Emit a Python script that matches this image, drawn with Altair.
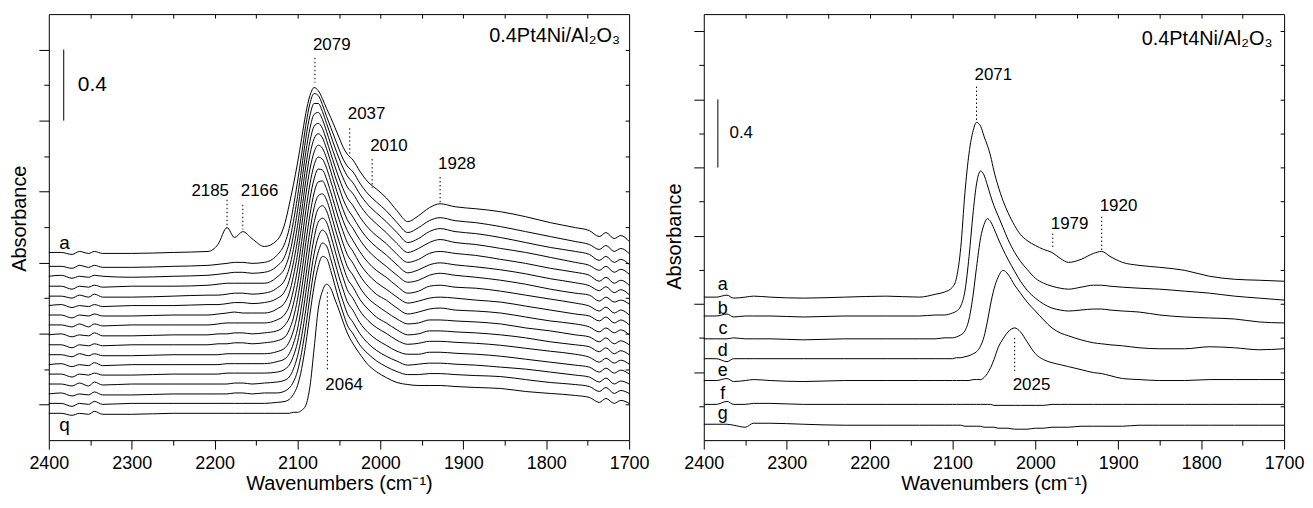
import altair as alt
import pandas as pd

FONT = "Liberation Sans"
INK = "#000000"

# ---------------- LEFT PANEL (17 spectra, a..q) ----------------
# readings are heights in scale divisions (0.4 absorbance bar = 71.5 div)
LEFT_UNIT = 2.4 / 429.0
LEFT_WN = [2400, 2385, 2372, 2363, 2352, 2345, 2335, 2300, 2250, 2208, 2196, 2185, 2176, 2166, 2155, 2140, 2125,
           2115, 2110, 2105, 2100, 2095, 2090, 2085, 2080, 2075, 2070, 2065, 2060, 2055, 2050, 2045, 2040,
           2033, 2025, 2015, 2005, 1993, 1980, 1967, 1954, 1941, 1928, 1910, 1885, 1855, 1825, 1795, 1765,
           1748, 1736, 1728, 1718, 1710, 1700]
LEFT_NAMES = list("abcdefghijklmnopq")
LEFT_BASE = [189, 175, 165, 155, 145, 135.5, 126, 116, 106, 96, 86, 76, 66.5, 56.5, 46.5, 37, 27]

L_a = [0, 0, -2, 1, -1, 1, -1, -1, 0, 1, 8, 25, 15, 21, 14, 6, 12,
       30, 48, 68, 90, 115, 140, 158, 166, 163, 155, 145, 136, 126, 116, 106, 99,
       93, 82, 71, 64, 55, 42, 31, 37, 45, 49, 46, 44, 41, 36, 30, 25, 22, 16, 20, 14, 17, 11]
L_b = [0, 0, -2, 1, -1, 1, -1, -1, 0, 1, 2, 3, 4, 4, 3, 4, 11,
       24, 38, 60, 85, 113, 142, 164, 174, 172, 163, 151, 140, 129, 118, 108, 101,
       95, 84, 73, 65, 56, 44, 34, 39, 46, 49, 46, 44, 40, 35, 30, 25, 22, 17, 21, 15, 18, 13]
L_c = [0, 1, -2, 0, -1, 1, 0, -1, 0, 1, 2, 3, 4, 4, 3, 4, 10,
       21, 34, 55, 80, 109, 139, 162, 174, 174, 166, 154, 142, 130, 119, 109, 101,
       94, 83, 72, 64, 55, 44, 34, 38, 45, 48, 45, 43, 39, 34, 29, 25, 22, 16, 20, 14, 17, 12]
L_d = [0, 0, -3, 0, -1, 1, -1, 0, 0, 1, 2, 3, 3, 3, 3, 3, 9,
       19, 31, 51, 76, 105, 135, 159, 173, 175, 168, 156, 143, 131, 119, 109, 100,
       93, 82, 71, 63, 54, 43, 34, 38, 44, 47, 44, 42, 38, 34, 29, 24, 21, 16, 20, 14, 17, 12]
L_e = [0, 0, -2, 1, -1, 2, -1, -1, 0, 1, 1, 2, 3, 3, 2, 3, 8,
       17, 28, 47, 71, 100, 131, 156, 171, 174, 169, 157, 144, 131, 119, 108, 99,
       91, 80, 69, 61, 53, 42, 34, 37, 43, 45, 43, 41, 37, 33, 28, 24, 21, 15, 19, 13, 16, 11]
L_f = [0, 1, -2, 0, -1, 1, -1, 0, 0, 1, 1, 2, 3, 3, 2, 3, 7,
       15, 25, 43, 66, 95, 126, 152, 168, 173, 169, 158, 145, 131, 119, 107, 98,
       89, 78, 67, 59, 51, 41, 33, 36, 41, 43, 41, 39, 36, 32, 27, 23, 20, 15, 19, 13, 16, 11]
L_g = [0, 0, -3, 0, -1, 1, -1, -1, 0, 0, 1, 2, 3, 2, 2, 2, 6,
       13, 22, 39, 61, 90, 121, 147, 164, 171, 168, 158, 145, 131, 118, 106, 96,
       87, 76, 65, 57, 49, 40, 33, 35, 40, 42, 40, 38, 35, 31, 26, 22, 20, 14, 18, 13, 15, 11]
L_h = [0, 0, -2, 1, -2, 1, -1, 0, 0, 0, 1, 2, 2, 2, 2, 2, 5,
       11, 19, 35, 56, 84, 115, 142, 161, 169, 167, 158, 145, 131, 117, 105, 95,
       85, 74, 63, 55, 48, 39, 32, 34, 39, 40, 38, 37, 34, 30, 26, 22, 19, 14, 18, 12, 15, 10]
L_i = [0, 1, -2, 0, -1, 2, -1, -1, 0, 0, 1, 1, 2, 2, 1, 2, 4,
       10, 17, 31, 51, 78, 109, 137, 157, 167, 166, 157, 144, 130, 116, 104, 93,
       84, 72, 61, 53, 46, 38, 32, 34, 37, 38, 37, 35, 33, 29, 25, 21, 19, 14, 18, 12, 15, 10]
L_j = [0, 0, -3, 0, -1, 1, -1, 0, 0, 0, 1, 1, 2, 2, 1, 2, 4,
       8, 15, 27, 46, 72, 103, 131, 153, 164, 165, 157, 144, 129, 115, 102, 91,
       82, 70, 59, 51, 45, 37, 31, 33, 36, 37, 35, 34, 32, 28, 24, 21, 18, 13, 17, 12, 15, 10]
L_k = [0, 0, -2, 1, -1, 1, -1, -1, 0, 0, 0, 1, 1, 1, 1, 1, 3,
       7, 13, 24, 41, 66, 96, 125, 148, 160, 162, 156, 143, 128, 114, 101, 89,
       80, 68, 57, 50, 43, 36, 31, 32, 35, 35, 34, 33, 31, 27, 24, 20, 18, 13, 17, 11, 14, 10]
L_l = [0, 1, -2, 0, -1, 2, -1, 0, 0, 0, 0, 1, 1, 1, 1, 1, 3,
       6, 11, 21, 36, 60, 89, 119, 143, 157, 160, 155, 142, 127, 112, 99, 87,
       78, 66, 56, 48, 42, 35, 30, 31, 34, 34, 33, 32, 30, 27, 23, 20, 18, 13, 17, 11, 14, 10]
L_m = [0, 0, -3, 0, -1, 1, -1, -1, 0, 0, 0, 1, 1, 1, 1, 1, 2,
       5, 9, 18, 32, 54, 82, 112, 137, 153, 157, 153, 140, 125, 110, 97, 85,
       76, 64, 54, 47, 41, 34, 30, 31, 33, 33, 32, 31, 29, 26, 23, 20, 17, 12, 16, 11, 14, 10]
L_n = [0, 0, -2, 1, -2, 2, -1, 0, 0, 0, 0, 0, 1, 1, 0, 1, 2,
       4, 7, 15, 28, 48, 75, 105, 131, 148, 155, 151, 138, 123, 108, 95, 83,
       74, 62, 52, 45, 39, 33, 30, 30, 32, 32, 31, 30, 28, 25, 22, 19, 17, 12, 16, 11, 14, 10]
L_o = [0, 1, -2, 0, -1, 2, -1, -1, 0, 0, 0, 0, 1, 1, 0, 1, 1,
       3, 6, 12, 23, 42, 68, 98, 125, 143, 152, 149, 136, 121, 106, 93, 81,
       72, 61, 51, 44, 38, 33, 29, 30, 31, 31, 30, 29, 27, 25, 22, 19, 17, 12, 16, 10, 13, 10]
L_p = [0, 0, -3, 0, -1, 2, -1, 0, 0, 0, 0, 0, 0, 0, 0, 0, 1,
       2, 4, 9, 18, 35, 60, 90, 118, 138, 148, 146, 134, 119, 104, 91, 79,
       70, 59, 50, 43, 37, 32, 29, 29, 30, 30, 29, 28, 27, 24, 21, 19, 17, 12, 16, 10, 13, 10]
L_q = [0, 0, -2, 0, -1, 2, -1, -1, 0, 0, 0, 0, 0, 0, 0, 0, 0,
       0, 0, 1, 1, 3, 8, 27, 65, 105, 123, 130, 126, 115, 104, 92, 81,
       70, 60, 49, 42, 36, 31, 29, 28, 28, 28, 27, 26, 25, 22, 20, 18, 16, 11, 15, 10, 13, 10]
LEFT_SPECTRA = [L_a, L_b, L_c, L_d, L_e, L_f, L_g, L_h, L_i, L_j, L_k, L_l, L_m, L_n, L_o, L_p, L_q]

LEFT_PEAK_WN = [2185, 2166, 2079, 2037, 2010, 1928, 2064]
LEFT_PEAK_SIDE = ["right", "left", "left", "left", "left", "left", "left"]
LEFT_PEAK_TEXT_Y = [251, 251, 398, 328, 296, 278, 55]
LEFT_PEAK_TOP = [242, 237, 385, 314, 283, 265, 149]
LEFT_PEAK_BOT = [216, 212, 360, 287, 254, 239, 69]
LEFT_TAGS = ["a", "q"]
LEFT_TAG_WN = [2381, 2381]
LEFT_TAG_Y = [192, 9]

# ---------------- RIGHT PANEL (7 spectra, a..g) ----------------
RIGHT_UNIT = 2.5 / 429.0
RIGHT_WN = [2400, 2385, 2372, 2364, 2350, 2340, 2320, 2280, 2230, 2180,
            2140, 2120, 2110, 2100, 2095, 2090, 2085, 2080, 2075, 2071,
            2066, 2062, 2058, 2054, 2050, 2045, 2039, 2033, 2025, 2018,
            2010, 2000, 1990, 1980, 1970, 1960, 1945, 1930, 1920, 1910,
            1895, 1875, 1850, 1820, 1790, 1760, 1730, 1700]
RIGHT_NAMES = list("abcdefg")
RIGHT_BASE = [144, 125, 102, 82, 60, 36, 16]
R_a = [0, 0, 2, -1, 0, 1, 0, -1, 0, 1,
       0, 3, 5, 10, 20, 50, 105, 145, 168, 176,
       172, 162, 153, 142, 127, 112, 97, 85, 72, 63,
       57, 52, 48, 45, 39, 35, 38, 44, 46, 41,
       35, 32, 30, 27, 21, 18, 17, 16]
R_b = [0, 0, 2, -1, 0, 0, 0, -1, 0, 0,
       0, 1, 1, 3, 5, 10, 25, 60, 105, 133,
       146, 142, 132, 121, 111, 101, 89, 77, 64, 55,
       47, 38, 33, 30, 28, 27, 29, 31, 31, 30,
       29, 28, 27, 25, 23, 20, 18, 16]
R_c = [0, 0, 0, 1, 0, 0, 0, -1, 0, 0,
       0, 0, 1, 1, 2, 4, 8, 20, 45, 72,
       102, 115, 121, 118, 111, 101, 90, 80, 68, 58,
       49, 41, 35, 31, 29, 28, 29, 30, 30, 29,
       28, 27, 24, 22, 21, 20, 17, 16]
R_d = [0, 0, -3, 0, 0, 0, 0, 0, 0, 0,
       0, 0, 0, 0, 1, 1, 2, 3, 5, 7,
       13, 22, 37, 55, 70, 82, 89, 85, 74, 66,
       57, 48, 39, 31, 26, 23, 19, 16, 15, 14,
       13, 11, 10, 10, 12, 11, 9, 10]
R_e = [0, 0, 2, -1, 0, 1, 0, -1, 0, 0,
       0, 0, 0, 0, 0, 0, 0, 0, 1, 1,
       1, 3, 7, 13, 21, 33, 42, 49, 53, 49,
       39, 27, 21, 18, 16, 14, 11, 8, 7, 5,
       2, 1, 0, 0, 1, 1, 1, 1]
R_f = [0, 0, 3, 0, 0, 1, 1, 0, 0, 0,
       0, 0, 0, 0, 0, 0, 0, 0, 0, 0,
       0, 0, 0, 0, -1, -1, -1, -1, -1, -1,
       -1, -1, -1, 0, 0, 0, 0, 0, 0, 0,
       0, 0, 0, 0, 0, 0, 0, 0]
R_g = [0, 0, 0, -1, -3, 1, 1, 0, -1, -1,
       -1, -1, -1, -1, -1, -1, -2, -2, -2, -2,
       -2, -3, -3, -3, -3, -4, -4, -4, -5, -5,
       -5, -4, -4, -3, -3, -3, -2, -2, -2, -2,
       -2, -1, -1, -1, -1, -1, -1, -1]
RIGHT_SPECTRA = [R_a, R_b, R_c, R_d, R_e, R_f, R_g]

RIGHT_PEAK_WN = [2071, 1979, 1920, 2025]
RIGHT_PEAK_SIDE = ["left", "left", "left", "left"]
RIGHT_PEAK_TEXT_Y = [368, 218, 236, 55]
RIGHT_PEAK_TOP = [356, 208, 225, 103]
RIGHT_PEAK_BOT = [321, 193, 190, 68]
RIGHT_TAGS = list("abcdefg")
RIGHT_TAG_WN = [2377] * 7
RIGHT_TAG_Y = [151, 127, 107, 85, 65, 41, 21]

SAMPLE = "0.4Pt4Ni/Al\u2082O\u2083"
SCALE_TEXT = "0.4"
LEFT_BAR = {"wn": 2382, "y1": 1.8, "y2": 2.2, "twn": 2365, "ty": 2.0}
RIGHT_BAR = {"wn": 2383, "y1": 1.6, "y2": 2.0, "twn": 2369, "ty": 1.8}
LEFT_SAMPLE_POS = {"wn": 1711, "y": 400.5}
RIGHT_SAMPLE_POS = {"wn": 1714, "y": 398}

PANEL_W = 583
PANEL_H = 428


def spectra_table(wn, names, base, spectra, unit):
    rows = []
    for name, b, vals in zip(names, base, spectra):
        for w, v in zip(wn, vals):
            rows.append({"wn": w, "A": (b + v) * unit, "curve": name})
    return pd.DataFrame(rows)


def peak_table(wns, sides, ty, top, bot, unit):
    return pd.DataFrame({
        "wn": wns, "side": sides, "label": [str(w) for w in wns],
        "ty": [v * unit for v in ty], "top": [v * unit for v in top], "bot": [v * unit for v in bot]})


def tag_table(tags, wns, ys, unit):
    return pd.DataFrame({"wn": wns, "y": [v * unit for v in ys], "tag": tags})


def make_panel(lines_df, peaks_df, tags_df, bar, sample_pos, unit, ydom, ymajor, yminor, yall,
               tag_size, bar_size, title_x, title_y):
    xs = alt.Scale(domain=[1700, 2400], reverse=True, nice=False, zero=False)
    ys = alt.Scale(domain=ydom, nice=False, zero=False)

    ax_major = alt.Axis(orient="bottom", values=list(range(1700, 2401, 100)), format="d",
                        tickSize=9, tickColor=INK, tickWidth=1, domain=False, grid=False,
                        labelFont=FONT, labelFontSize=18, labelColor=INK, labelBaseline="alphabetic",
                        labelPadding=20, labelFlush=False, labelOverlap=False,
                        title="Wavenumbers (cm\u207b\u00b9)", titleFont=FONT, titleFontSize=20,
                        titleFontWeight="normal", titleColor=INK, titleBaseline="alphabetic", titleY=50)
    ax_minor = alt.Axis(orient="bottom", values=list(range(1750, 2400, 100)), tickSize=5,
                        tickColor=INK, tickWidth=1, labels=False, domain=False, grid=False, title=None)
    ax_top = alt.Axis(orient="top", values=list(range(1750, 2400, 50)), tickSize=4, offset=-4,
                      tickColor=INK, tickWidth=1, labels=False, domain=False, grid=False, title=None)
    ay_major = alt.Axis(orient="left", values=ymajor, tickSize=10, tickColor=INK, tickWidth=1,
                        labels=False, domain=False, grid=False,
                        title="Absorbance", titleFont=FONT, titleFontSize=20, titleFontWeight="normal",
                        titleColor=INK, titleBaseline="alphabetic", titleX=title_x, titleY=title_y)
    ay_minor = alt.Axis(orient="left", values=yminor, tickSize=5, tickColor=INK, tickWidth=1,
                        labels=False, domain=False, grid=False, title=None)
    ay_right = alt.Axis(orient="right", values=yall, tickSize=4, offset=-4, tickColor=INK, tickWidth=1,
                        labels=False, domain=False, grid=False, title=None)

    def X(axis):
        return alt.X("wn:Q", scale=xs, axis=axis)

    lines = alt.Chart(lines_df).mark_line(color=INK, strokeWidth=1, interpolate="monotone").encode(
        x=X(ax_major), y=alt.Y("A:Q", scale=ys, axis=ay_major), detail="curve:N")

    rules = alt.Chart(peaks_df).mark_rule(color=INK, strokeWidth=1, strokeDash=[1.5, 2.5]).encode(
        x=X(ax_minor), y=alt.Y("top:Q", scale=ys, axis=ay_minor), y2="bot:Q")

    ptxt_l = alt.Chart(peaks_df).transform_filter("datum.side == 'left'").mark_text(
        align="left", baseline="middle", dx=-2, font=FONT, fontSize=17, color=INK).encode(
        x=X(ax_top), y=alt.Y("ty:Q", scale=ys, axis=ay_right), text="label:N")
    ptxt_r = alt.Chart(peaks_df).transform_filter("datum.side == 'right'").mark_text(
        align="right", baseline="middle", dx=2, font=FONT, fontSize=17, color=INK).encode(
        x=X(None), y=alt.Y("ty:Q", scale=ys, axis=None), text="label:N")

    tags = alt.Chart(tags_df).mark_text(align="center", baseline="alphabetic", font=FONT,
                                        fontSize=tag_size, color=INK).encode(
        x=X(None), y=alt.Y("y:Q", scale=ys, axis=None), text="tag:N")

    bar_df = pd.DataFrame([bar])
    bar_rule = alt.Chart(bar_df).mark_rule(color=INK, strokeWidth=1).encode(
        x=X(None), y=alt.Y("y1:Q", scale=ys, axis=None), y2="y2:Q")
    bar_txt = alt.Chart(bar_df.assign(t=SCALE_TEXT)).mark_text(
        align="left", baseline="middle", font=FONT, fontSize=bar_size, color=INK).encode(
        x=alt.X("twn:Q", scale=xs, axis=None), y=alt.Y("ty:Q", scale=ys, axis=None), text="t:N")

    samp_df = pd.DataFrame([{"wn": sample_pos["wn"], "y": sample_pos["y"] * unit, "t": SAMPLE}])
    samp = alt.Chart(samp_df).mark_text(align="right", baseline="alphabetic", font=FONT,
                                        fontSize=20, color=INK).encode(
        x=X(None), y=alt.Y("y:Q", scale=ys, axis=None), text="t:N")

    return alt.layer(lines, rules, ptxt_l, ptxt_r, tags, bar_rule, bar_txt, samp).resolve_axis(
        x="independent", y="independent").properties(width=PANEL_W, height=PANEL_H)


left_lines = spectra_table(LEFT_WN, LEFT_NAMES, LEFT_BASE, LEFT_SPECTRA, LEFT_UNIT)
left_peaks = peak_table(LEFT_PEAK_WN, LEFT_PEAK_SIDE, LEFT_PEAK_TEXT_Y, LEFT_PEAK_TOP, LEFT_PEAK_BOT, LEFT_UNIT)
left_tags = tag_table(LEFT_TAGS, LEFT_TAG_WN, LEFT_TAG_Y, LEFT_UNIT)

right_lines = spectra_table(RIGHT_WN, RIGHT_NAMES, RIGHT_BASE, RIGHT_SPECTRA, RIGHT_UNIT)
right_peaks = peak_table(RIGHT_PEAK_WN, RIGHT_PEAK_SIDE, RIGHT_PEAK_TEXT_Y, RIGHT_PEAK_TOP, RIGHT_PEAK_BOT, RIGHT_UNIT)
right_tags = tag_table(RIGHT_TAGS, RIGHT_TAG_WN, RIGHT_TAG_Y, RIGHT_UNIT)

left = make_panel(left_lines, left_peaks, left_tags, LEFT_BAR, LEFT_SAMPLE_POS, LEFT_UNIT, [0, 2.4],
                  [0.2, 0.6, 1.0, 1.4, 1.8, 2.2], [0.4, 0.8, 1.2, 1.6, 2.0],
                  [0.2, 0.4, 0.6, 0.8, 1.0, 1.2, 1.4, 1.6, 1.8, 2.0, 2.2],
                  19, 21, -23, 205)
right = make_panel(right_lines, right_peaks, right_tags, RIGHT_BAR, RIGHT_SAMPLE_POS, RIGHT_UNIT, [0, 2.5],
                   [0.4, 0.8, 1.2, 1.6, 2.0, 2.4], [0.2, 0.6, 1.0, 1.4, 1.8, 2.2],
                   [0.2, 0.4, 0.6, 0.8, 1.0, 1.2, 1.4, 1.6, 1.8, 2.0, 2.2, 2.4],
                   18, 17, -23, 223)

chart = alt.hconcat(left, right, spacing=14).properties(
    padding={"left": 1, "top": 4, "right": 0, "bottom": 0}
).configure(font=FONT).configure_view(stroke=INK, strokeWidth=1)

chart.save("out.html", embed_options={"renderer": "svg", "actions": False})
